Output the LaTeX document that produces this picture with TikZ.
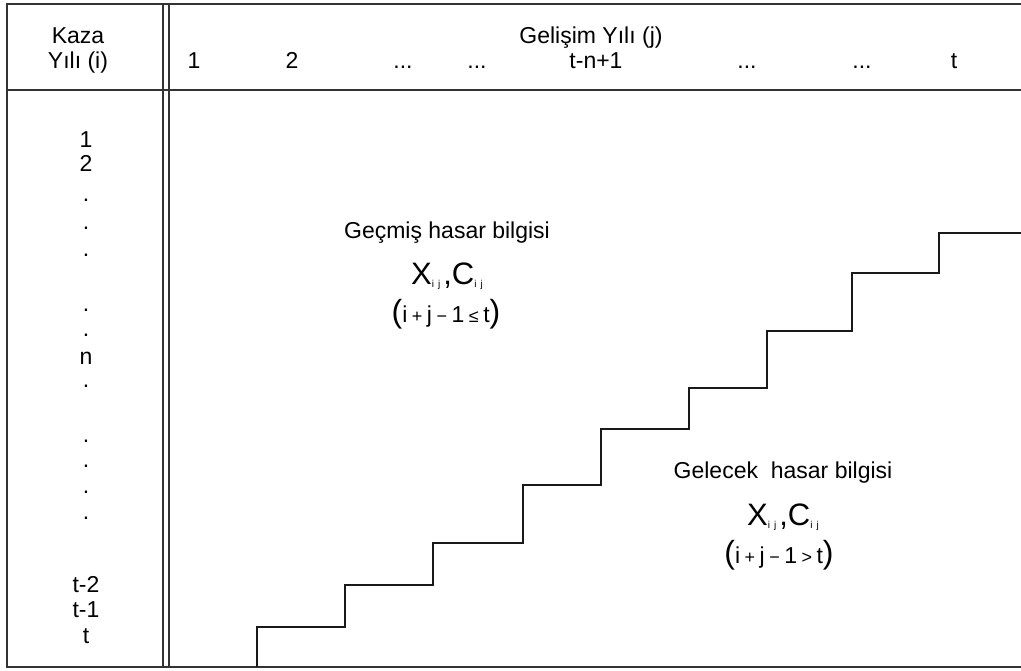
\documentclass[tikz,border=0pt]{standalone}
\usepackage{fontspec}
\setmainfont{Liberation Sans}
\newcommand{\ijsub}{\raisebox{-3pt}{\fontsize{10}{10}\selectfont i\hspace{4pt}j}}
\newcommand{\bigpar}[1]{{\fontsize{32}{32}\selectfont #1}}
\newcommand{\smallop}[1]{\hspace{4.5pt}{\fontsize{18}{18}\selectfont #1}\hspace{4.5pt}}
\begin{document}
\begin{tikzpicture}[x=1pt,y=-1pt,
  frame/.style={draw=black!80, line width=1.8pt},
  thinrule/.style={draw=black!80, line width=1.4pt},
  stair/.style={draw=black!90, line width=2pt, line join=miter},
  lbl/.style={inner sep=0pt, anchor=base, font=\fontsize{23}{26}\selectfont},
  big/.style={inner sep=0pt, anchor=base, font=\fontsize{31}{31}\selectfont},
  cond/.style={inner sep=0pt, anchor=base, font=\fontsize{23}{23}\selectfont},
]
\useasboundingbox (0,0) rectangle (1021,671);

% table frame (open on the right)
\coordinate (tl) at (7,4);
\coordinate (tr) at (1021,4);
\coordinate (bl) at (7,667);
\coordinate (br) at (1021,667);
\draw[frame] (tr) -- (tl) -- (bl) -- (br);
\coordinate (hl) at (7,90);
\coordinate (hr) at (1021,90);
\draw[frame] (hl) -- (hr);
% double rule between the year column and the body
\coordinate (da1) at (163,4);   \coordinate (da2) at (163,667);
\coordinate (db1) at (169,4);   \coordinate (db2) at (169,667);
\draw[thinrule] (da1) -- (da2);
\draw[thinrule] (db1) -- (db2);

% header
\node[lbl] (kaza) at (78,44) {Kaza};
\node[lbl] (yili) at (78,69) {Yılı (i)};
\node[lbl] (gel) at (591,44) {Gelişim Yılı (j)};
\node[lbl] (c1) at (194,69) {1};
\node[lbl] (c2) at (292,69) {2};
\node[lbl] (c3) at (403,69) {...};
\node[lbl] (c4) at (477,69) {...};
\node[lbl] (c5) at (596,69) {t-n+1};
\node[lbl] (c6) at (747,69) {...};
\node[lbl] (c7) at (862,69) {...};
\node[lbl] (c8) at (954,69) {t};

% accident-year labels
\node[lbl] (r1) at (86,148) {1};
\node[lbl] (r2) at (86,172) {2};
\node[lbl] (d1) at (86,202) {.};
\node[lbl] (d2) at (86,230) {.};
\node[lbl] (d3) at (86,257) {.};
\node[lbl] (d4) at (86,312) {.};
\node[lbl] (d5) at (86,337) {.};
\node[lbl] (rn) at (86,364) {n};
\node[lbl] (d6) at (86,388) {.};
\node[lbl] (d7) at (86,442) {.};
\node[lbl] (d8) at (86,467) {.};
\node[lbl] (d9) at (86,493) {.};
\node[lbl] (d10) at (86,519) {.};
\node[lbl] (rt2) at (86,592) {t-2};
\node[lbl] (rt1) at (86,617) {t-1};
\node[lbl] (rt) at (86,643) {t};

% staircase boundary between known and future cells
\coordinate (s0) at (257,667);
\draw[stair] (s0) -- (257,627) -- (345,627) -- (345,585) -- (433,585)
  -- (433,543) -- (523,543) -- (523,485) -- (601,485) -- (601,429)
  -- (689,429) -- (689,388) -- (767,388) -- (767,331) -- (852,331)
  -- (852,273) -- (939,273) -- (939,233) -- (1021,233);

% upper triangle: observed data
\node[lbl] (past) at (447,239) {Geçmiş hasar bilgisi};
\node[big] (pastxc) at (447,285) {X\ijsub\hspace{3pt},C\ijsub};
\node[cond] (pastcond) at (446,323) {\bigpar{(}i\smallop{+}j\smallop{−}1\smallop{≤}t\bigpar{)}};

% lower triangle: future data
\node[lbl] (fut) at (783,478) {Gelecek\ \ hasar bilgisi};
\node[big] (futxc) at (783,525) {X\ijsub\hspace{3pt},C\ijsub};
\node[cond] (futcond) at (779,563) {\bigpar{(}i\smallop{+}j\smallop{−}1\smallop{>}t\bigpar{)}};
\end{tikzpicture}
\end{document}
